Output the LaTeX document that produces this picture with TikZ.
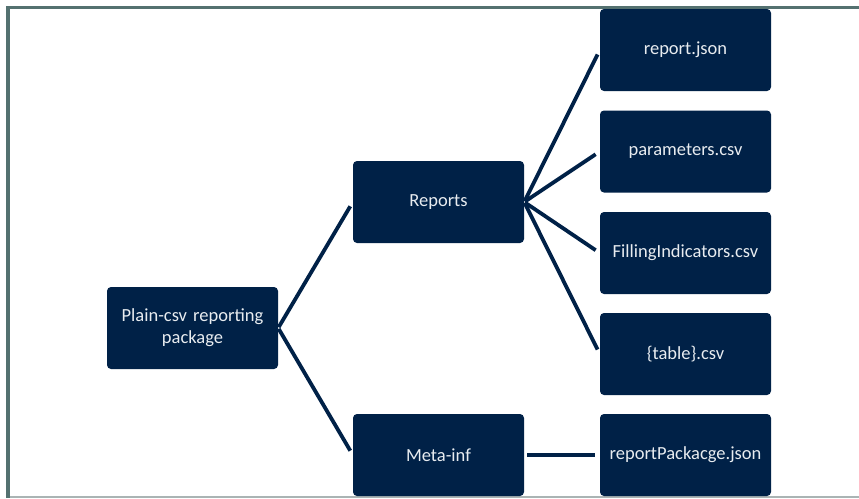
\documentclass[tikz,border=0pt]{standalone}
\usepackage{fontspec}
\setmainfont{Carlito}
\definecolor{navy}{RGB}{0,33,71}
\definecolor{frametc}{RGB}{84,113,112}
\definecolor{framelt}{RGB}{170,180,180}
\definecolor{txt}{RGB}{232,236,240}
\begin{document}
\begin{tikzpicture}[x=1pt,y=-1pt,
  box/.style={fill=navy, rounded corners=4pt, minimum width=171pt, minimum height=82pt,
    inner sep=2pt, text=txt, align=center, font=\fontsize{18.5}{22}\selectfont, text width=165pt},
  conn/.style={draw=navy, line width=3.8pt, shorten >=5pt, shorten <=1pt}]
\useasboundingbox (0,0) rectangle (859,498);
\fill[white] (0,0) rectangle (859,498);
% frame
\draw[frametc, line width=3pt] (6,7) -- (859,7);
\draw[frametc, line width=4pt] (8,6) -- (8,498);
\draw[framelt, line width=1.2pt] (10,497) -- (859,497);
% nodes
\node[box] (root) at (192.5,328) {Plain-csv reporting\\package};
\node[box] (rep) at (438.5,202) {Reports};
\node[box] (meta) at (438.5,455) {Meta-inf};
\node[box] (rj) at (685.5,50) {report.json};
\node[box] (par) at (685.5,151.5) {parameters.csv};
\node[box] (fill) at (685.5,253) {FillingIndicators.csv};
\node[box] (tab) at (685.5,354) {\{table\}.csv};
\node[box] (rpj) at (685.5,455) {reportPackacge.json};
% connectors
\draw[conn] (root.east) -- (rep.west);
\draw[conn] (root.east) -- (meta.west);
\draw[conn] (rep.east) -- (rj.west);
\draw[conn] (rep.east) -- (par.west);
\draw[conn] (rep.east) -- (fill.west);
\draw[conn] (rep.east) -- (tab.west);
\draw[conn, shorten <=3pt] (meta.east) -- (rpj.west);
\end{tikzpicture}
\end{document}
